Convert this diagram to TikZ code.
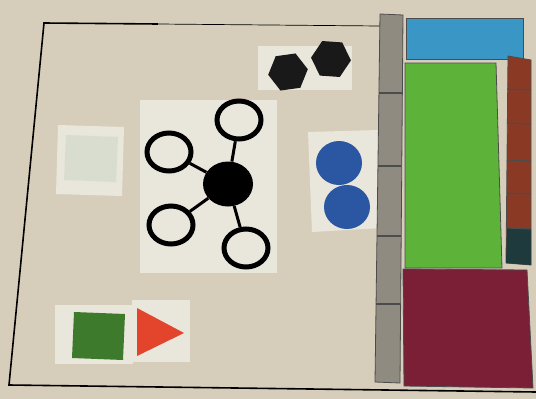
\documentclass[tikz,border=0pt]{standalone}
\usepackage{tikz}
\usepackage{xcolor}
\usetikzlibrary{shapes.geometric}

\definecolor{board}{HTML}{D6CEBB}
\definecolor{sheet}{HTML}{E9E6DC}
\definecolor{tilegray}{HTML}{908B81}
\definecolor{skyblue}{HTML}{3A96C4}
\definecolor{grassgreen}{HTML}{5DB339}
\definecolor{brick}{HTML}{8A3A24}
\definecolor{darkteal}{HTML}{1F3A3D}
\definecolor{wine}{HTML}{7A1F36}
\definecolor{dotblue}{HTML}{2B56A2}
\definecolor{leaf}{HTML}{3E7A2B}
\definecolor{flame}{HTML}{E2442C}
\definecolor{ghost}{HTML}{D9DDD0}

\begin{document}
\begin{tikzpicture}[x=1pt, y=-1pt,
  ring/.style={ellipse, draw=black, line width=5pt, fill=sheet, minimum width=44pt, minimum height=38pt, inner sep=0pt},
  hubdot/.style={ellipse, fill=black, minimum width=50pt, minimum height=45pt, inner sep=0pt},
  hexchip/.style={regular polygon, regular polygon sides=6, fill=black!90, minimum size=40pt, inner sep=0pt},
  bluechip/.style={ellipse, fill=dotblue, minimum width=46pt, minimum height=44pt, inner sep=0pt},
  card/.style={fill=sheet},
  cell/.style={draw=black!70, line width=0.8pt}]
  \useasboundingbox (0,0) rectangle (536,399);
  \fill[board] (0,0) rectangle (536,399);

  % border of the board
  \draw[line width=1.6pt] (158,24) -- (44,23) -- (9,385) -- (536,392);
  \draw[line width=0.7pt] (158,24) -- (380,26);

  % paper cards
  \fill[card] (258,46) rectangle (352,90);
  \fill[card] (140,100) rectangle (277,273);
  \fill[card] (58,125) -- (124,127) -- (122,196) -- (56,194) -- cycle;
  \fill[card] (308,132) -- (378,130) -- (382,228) -- (312,232) -- cycle;
  \fill[card] (55,305) rectangle (133,364);
  \fill[card] (132,300) rectangle (190,362);

  % faded square
  \fill[ghost] (66,135) -- (118,137) -- (116,182) -- (64,180) -- cycle;

  % hexagons
  \node[hexchip, rotate=8]  (hexa) at (288,72) {};
  \node[hexchip, rotate=-4] (hexb) at (331,59) {};

  % hub and rings
  \node[hubdot] (hub) at (228,184) {};
  \node[ring] (ringne) at (239,120) {};
  \node[ring] (ringnw) at (169,152) {};
  \node[ring] (ringsw) at (171,225) {};
  \node[ring] (ringse) at (246,248) {};
  \foreach \r in {ringne, ringnw, ringsw, ringse}
    \draw[line width=3pt] (hub) -- (\r);

  % blue discs
  \node[bluechip] (bluea) at (339,163) {};
  \node[bluechip] (blueb) at (347,207) {};

  % green square and red triangle
  \fill[leaf] (74,312) -- (125,314) -- (123,360) -- (72,358) -- cycle;
  \fill[flame] (137,308) -- (184,333) -- (137,356) -- cycle;

  % gray column
  \filldraw[fill=tilegray, cell] (380,14) -- (403,15) -- (400,383) -- (375,382) -- cycle;
  \foreach \y/\xa/\xb in {93/379/402, 166/378/401, 236/377/401, 304/376/400}
    \draw[cell, line width=1.2pt] (\xa,\y) -- (\xb,\y);

  % blue, green and wine blocks
  \filldraw[fill=skyblue, cell] (406,18) rectangle (523,59);
  \filldraw[fill=grassgreen, cell] (405,63) -- (496,63) -- (502,268) -- (405,268) -- cycle;
  \filldraw[fill=wine, cell] (403,269) -- (527,270) -- (533,388) -- (404,386) -- cycle;

  % brown column
  \filldraw[fill=brick, cell] (508,56) -- (531,60) -- (531,265) -- (506,263) -- cycle;
  \fill[darkteal] (507,228) -- (531,229) -- (531,265) -- (506,263) -- cycle;
  \foreach \y in {89, 123, 160, 193, 228}
    \draw[cell, line width=1.2pt] (507,\y) -- (531,\y+1);
\end{tikzpicture}
\end{document}
